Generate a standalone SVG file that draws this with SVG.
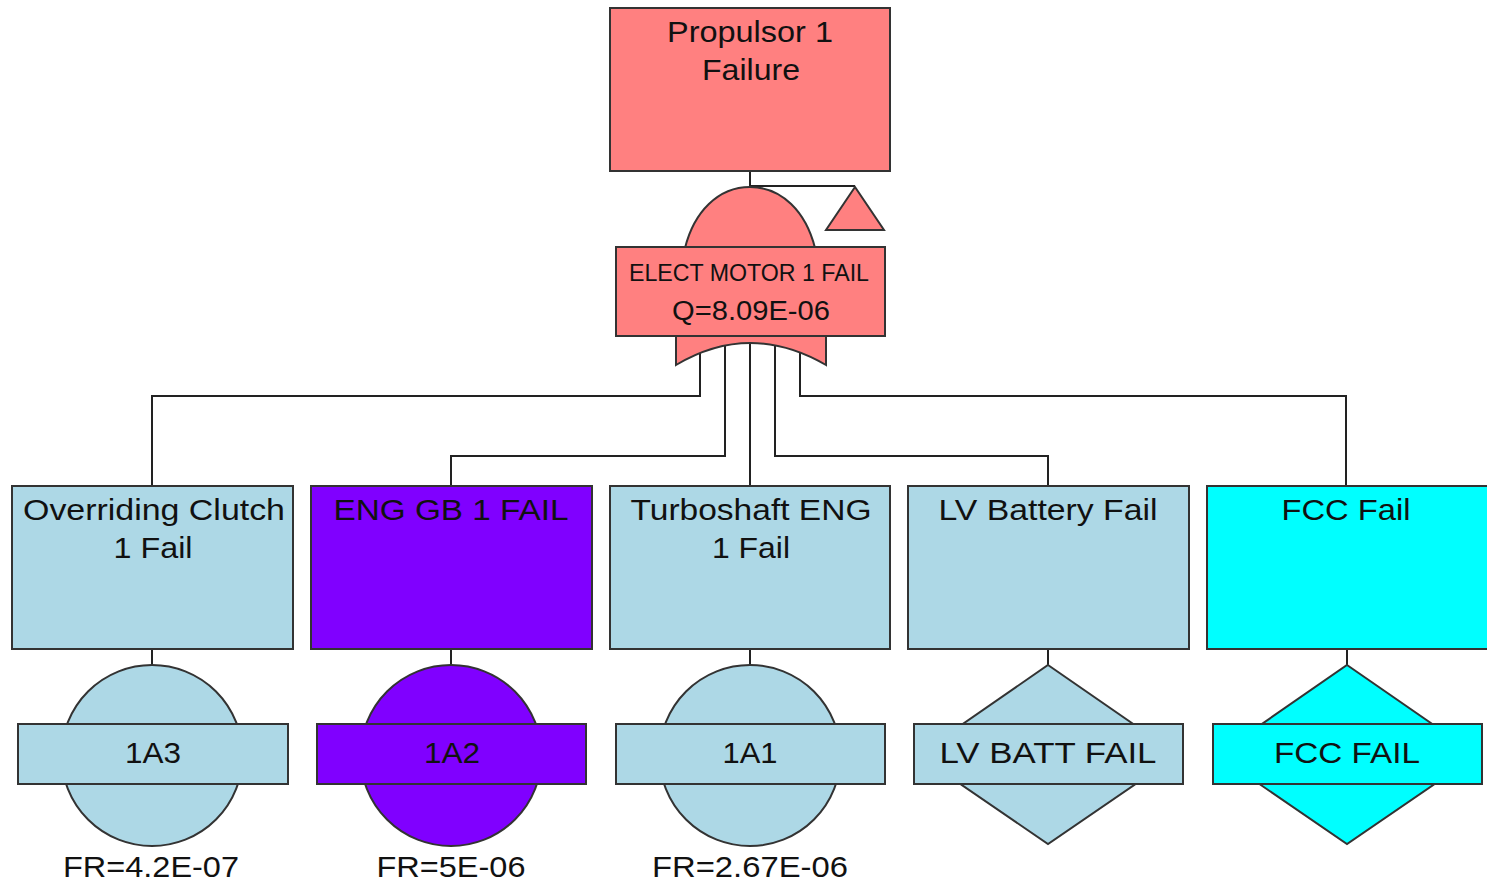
<svg xmlns="http://www.w3.org/2000/svg" width="1487" height="888" viewBox="0 0 1487 888">
<defs>
<style>
.bx{stroke:#333;stroke-width:2}
.pink{fill:#FF8080}
.lb{fill:#ADD8E6}
.pur{fill:#8000FF}
.cy{fill:#00FFFF}
.ln{fill:none;stroke:#222;stroke-width:2}
text{font-family:"Liberation Sans",Arial,sans-serif;fill:#111;text-anchor:middle}
.t{font-size:30px}
.s{font-size:23px}
</style>
</defs>
<rect width="1487" height="888" fill="#fff"/>
<g id="connectors" class="ln">
<path d="M750,171V190"/>
<path d="M750,186H855"/>
<path d="M700,350V396H152V486"/>
<path d="M800,350V396H1346V486"/>
<path d="M725,345V456H451V486"/>
<path d="M775,345V456H1048V486"/>
<path d="M750,340V486"/>
<path d="M152,649V665"/>
<path d="M451,649V665"/>
<path d="M750,649V665"/>
<path d="M1048,649V665"/>
<path d="M1347,649V665"/>
</g>
<g id="top">
<rect x="610" y="8" width="280" height="163" class="bx pink"/>
<text class="t" x="750" y="42" textLength="166" lengthAdjust="spacingAndGlyphs">Propulsor 1</text>
<text class="t" x="751" y="80" textLength="98" lengthAdjust="spacingAndGlyphs">Failure</text>
</g>
<g id="gate">
<path d="M685,248C694,212 718,187 750,187C782,187 806,212 815,248Z" class="bx pink"/>
<path d="M676,335V365Q750,321 826,365V335Z" class="bx pink"/>
<rect x="616" y="247" width="269" height="89" class="bx pink"/>
<text class="s" x="749" y="281" textLength="240" lengthAdjust="spacingAndGlyphs">ELECT MOTOR 1 FAIL</text>
<text class="t" x="751" y="320" font-size="27" style="font-size:27px" textLength="158" lengthAdjust="spacingAndGlyphs">Q=8.09E-06</text>
</g>
<g id="transfer">
<path d="M855,187L826,230H884Z" class="bx pink"/>
</g>
<g id="n1">
<rect x="12" y="486" width="281" height="163" class="bx lb"/>
<text class="t" x="154" y="520" textLength="262" lengthAdjust="spacingAndGlyphs">Overriding Clutch</text>
<text class="t" x="153" y="558" textLength="79" lengthAdjust="spacingAndGlyphs">1 Fail</text>
</g>
<g id="n2">
<rect x="311" y="486" width="281" height="163" class="bx pur"/>
<text class="t" x="451" y="520" textLength="235" lengthAdjust="spacingAndGlyphs">ENG GB 1 FAIL</text>
</g>
<g id="n3">
<rect x="610" y="486" width="280" height="163" class="bx lb"/>
<text class="t" x="751" y="520" textLength="241" lengthAdjust="spacingAndGlyphs">Turboshaft ENG</text>
<text class="t" x="751" y="558" textLength="78" lengthAdjust="spacingAndGlyphs">1 Fail</text>
</g>
<g id="n4">
<rect x="908" y="486" width="281" height="163" class="bx lb"/>
<text class="t" x="1048" y="520" textLength="219" lengthAdjust="spacingAndGlyphs">LV Battery Fail</text>
</g>
<g id="n5">
<rect x="1207" y="486" width="282" height="163" class="bx cy"/>
<text class="t" x="1346" y="520" textLength="129" lengthAdjust="spacingAndGlyphs">FCC Fail</text>
</g>
<g id="e1">
<circle cx="152" cy="755.5" r="90.5" class="bx lb"/>
<rect x="18" y="724" width="270" height="60" class="bx lb"/>
<text class="t" x="153" y="763" textLength="56" lengthAdjust="spacingAndGlyphs">1A3</text>
<text class="t" x="151" y="877" textLength="176" lengthAdjust="spacingAndGlyphs">FR=4.2E-07</text>
</g>
<g id="e2">
<circle cx="451" cy="755.5" r="90.5" class="bx pur"/>
<rect x="317" y="724" width="269" height="60" class="bx pur"/>
<text class="t" x="452" y="763" textLength="56" lengthAdjust="spacingAndGlyphs">1A2</text>
<text class="t" x="451" y="877" textLength="149" lengthAdjust="spacingAndGlyphs">FR=5E-06</text>
</g>
<g id="e3">
<circle cx="750" cy="755.5" r="90.5" class="bx lb"/>
<rect x="616" y="724" width="269" height="60" class="bx lb"/>
<text class="t" x="750" y="763" textLength="55" lengthAdjust="spacingAndGlyphs">1A1</text>
<text class="t" x="750" y="877" textLength="196" lengthAdjust="spacingAndGlyphs">FR=2.67E-06</text>
</g>
<g id="e4">
<path d="M1048,665L1178,755L1048,844L918,755Z" class="bx lb"/>
<rect x="914" y="724" width="269" height="60" class="bx lb"/>
<text class="t" x="1048" y="763" textLength="217" lengthAdjust="spacingAndGlyphs">LV BATT FAIL</text>
</g>
<g id="e5">
<path d="M1347,665L1477,755L1347,844L1217,755Z" class="bx cy"/>
<rect x="1213" y="724" width="269" height="60" class="bx cy"/>
<text class="t" x="1347" y="763" textLength="146" lengthAdjust="spacingAndGlyphs">FCC FAIL</text>
</g>
</svg>
